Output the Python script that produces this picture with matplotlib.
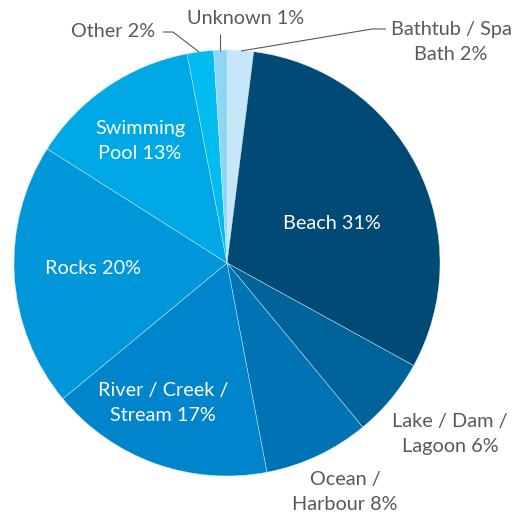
import matplotlib.pyplot as plt

# drowning locations, share of total (%)
locations = [
    "Bathtub / Spa\nBath",
    "Beach",
    "Lake / Dam /\nLagoon",
    "Ocean /\nHarbour",
    "River / Creek /\nStream",
    "Rocks",
    "Swimming\nPool",
    "Other",
    "Unknown",
]
shares = [2, 31, 6, 8, 17, 20, 13, 2, 1]
colours = [
    "#c6e7f7",
    "#004a75",
    "#006399",
    "#0073b5",
    "#0085cc",
    "#0096da",
    "#00a8e6",
    "#00bcef",
    "#8dd7f5",
]

W, H = 529, 517
CX, CY, R = 227, 263, 213


def px(x, y):
    # pixel position in the picture -> data coords of the pie axes
    return (x - CX) / R, (CY - y) / R


# where each label sits (pixels), whether it is inside, and leader line points
label_pos = {
    "Bathtub / Spa\nBath": (451, 42),
    "Beach": (332, 223),
    "Lake / Dam /\nLagoon": (450, 434),
    "Ocean /\nHarbour": (345, 492),
    "River / Creek /\nStream": (163, 403),
    "Rocks": (93, 268),
    "Swimming\nPool": (140, 141),
    "Other": (113, 31),
    "Unknown": (246, 18),
}
inside = {"Beach", "River / Creek /\nStream", "Rocks", "Swimming\nPool"}
leaders = {
    "Bathtub / Spa\nBath": [(241, 51), (372, 29), (386, 29)],
    "Other": [(163, 32), (173, 32), (199, 52)],
    "Unknown": [(220, 34), (220, 51)],
}

plt.rcParams["font.family"] = ["Lato", "DejaVu Sans"]
fig = plt.figure(figsize=(W / 100, H / 100), dpi=100)
ax = fig.add_axes([0, 0, 1, 1])

ax.pie(
    shares,
    colors=colours,
    startangle=90,
    counterclock=False,
    radius=1,
    wedgeprops=dict(edgecolor="#d9eef9", linewidth=0.3),
)

for name, val in zip(locations, shares):
    x, y = px(*label_pos[name])
    text = f"{name} {val}%"
    ax.text(
        x, y, text,
        ha="center", va="center",
        fontsize=14.3, linespacing=1.6,
        color="white" if name in inside else "#595959",
    )
    if name in leaders:
        pts = [px(*p) for p in leaders[name]]
        ax.plot([p[0] for p in pts], [p[1] for p in pts],
                color="#595959", lw=0.8, solid_capstyle="butt")

ax.set_xlim(-CX / R, (W - CX) / R)
ax.set_ylim((CY - H) / R, CY / R)
ax.set_aspect("auto")
ax.axis("off")

fig.savefig("out.png", dpi=100, facecolor="white")
